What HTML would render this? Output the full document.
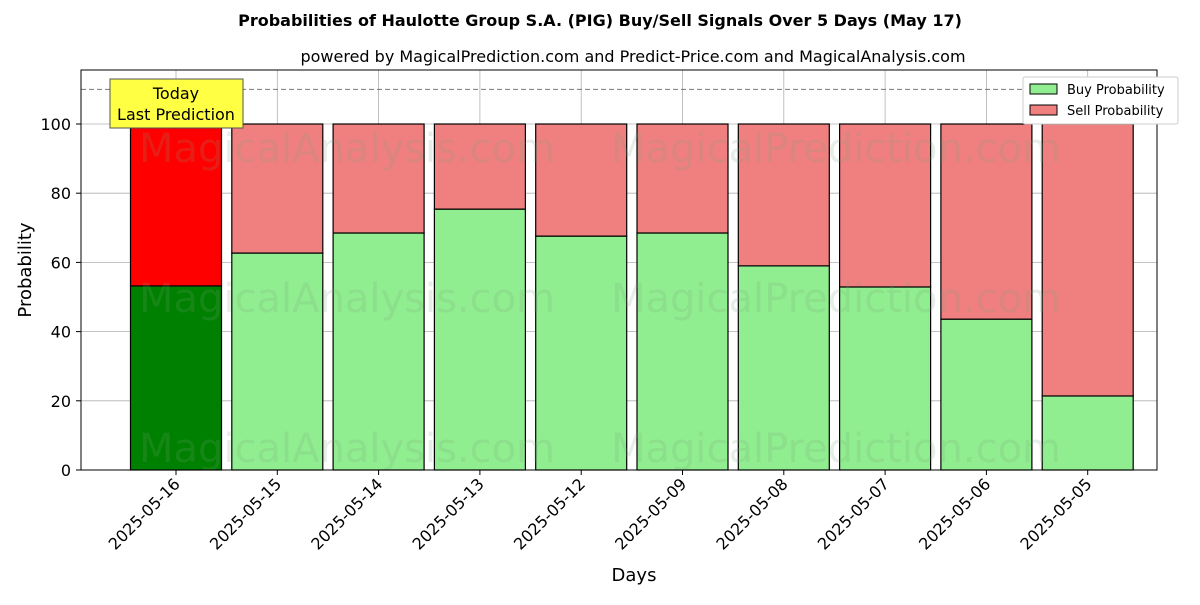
<!DOCTYPE html>
<html><head><meta charset="utf-8"><style>
body{margin:0;background:#fff;font-family:"Liberation Sans","DejaVu Sans",sans-serif}
</style></head><body>
<svg width="1200" height="600" xmlns="http://www.w3.org/2000/svg" font-family="DejaVu Sans, Liberation Sans, sans-serif">
<text x="600" y="26" text-anchor="middle" font-size="16" font-weight="bold">Probabilities of Haulotte Group S.A. (PIG) Buy/Sell Signals Over 5 Days (May 17)</text>
<text x="633" y="62" text-anchor="middle" font-size="16">powered by MagicalPrediction.com and Predict-Price.com and MagicalAnalysis.com</text>
<g id="grid"></g>
<g id="bars"></g>
<g id="wm" font-size="40" fill="rgba(120,160,120,0.18)">
<text x="347" y="162" text-anchor="middle">MagicalAnalysis.com</text>
<text x="836" y="162" text-anchor="middle">MagicalPrediction.com</text>
<text x="347" y="312" text-anchor="middle">MagicalAnalysis.com</text>
<text x="836" y="312" text-anchor="middle">MagicalPrediction.com</text>
<text x="347" y="462" text-anchor="middle">MagicalAnalysis.com</text>
<text x="836" y="462" text-anchor="middle">MagicalPrediction.com</text>
</g>
<line x1="81" x2="1157" y1="89.4" y2="89.4" stroke="#777" stroke-dasharray="5,3"/>
<rect x="110" y="79" width="133" height="49" fill="#ffff44" stroke="#555"/>
<text x="176" y="99" text-anchor="middle" font-size="16">Today</text>
<text x="176" y="120" text-anchor="middle" font-size="16">Last Prediction</text>
<rect x="81" y="70" width="1076" height="400" fill="none" stroke="#000"/>
<g id="axes" font-size="16"></g>
<text x="634" y="581" text-anchor="middle" font-size="18">Days</text>
<text x="31" y="270" text-anchor="middle" font-size="18" transform="rotate(-90 31 270)">Probability</text>
<g>
<rect x="1023" y="77" width="155" height="47" fill="#fff" stroke="#ccc" rx="2"/>
<rect x="1030" y="84" width="27" height="10" fill="#90ee90" stroke="#000"/>
<text x="1067" y="94" font-size="13">Buy Probability</text>
<rect x="1030" y="105" width="27" height="10" fill="#f08080" stroke="#000"/>
<text x="1067" y="115" font-size="13">Sell Probability</text>
</g>
</svg>
<script>
const categories=["2025-05-16","2025-05-15","2025-05-14","2025-05-13","2025-05-12","2025-05-09","2025-05-08","2025-05-07","2025-05-06","2025-05-05"];
const buyValues=[53.2,62.7,68.5,75.4,67.6,68.5,59.0,52.9,43.6,21.4];
const yTicks=[0,20,40,60,80,100];
const NS="http://www.w3.org/2000/svg";
const xs=i=>176+i*101.3, ys=v=>470-v*3.46, bw=91;
function mk(t,a,p){const e=document.createElementNS(NS,t);for(const k in a)e.setAttribute(k,a[k]);p.appendChild(e);return e;}
const grid=document.getElementById('grid'),bars=document.getElementById('bars'),axes=document.getElementById('axes');
yTicks.forEach(v=>{
 const g=mk('line',{x1:81,x2:1157,y1:ys(v),y2:ys(v),stroke:'#b0b0b0','stroke-width':0.8},grid);
 
 
 const t=mk('text',{x:71,y:ys(v)+6,'text-anchor':'end'},axes);t.textContent=v;
 
 
 mk('line',{x1:76,x2:81,y1:ys(v),y2:ys(v),stroke:'#000'},axes);
});
categories.forEach((c,i)=>{
 const x=xs(i);
 const g=mk('line',{x1:x,x2:x,y1:70,y2:470,stroke:'#b0b0b0','stroke-width':0.8},grid);
 
 
 const b=buyValues[i];
 const r1=mk('rect',{x:x-bw/2,y:ys(b),width:bw,height:ys(0)-ys(b),fill:i==0?'#008000':'#90ee90',stroke:'#000','stroke-width':1.2},bars);
 
 
 const r2=mk('rect',{x:x-bw/2,y:ys(100),width:bw,height:ys(b)-ys(100),fill:i==0?'#ff0000':'#f08080',stroke:'#000','stroke-width':1.2},bars);
 
 
 mk('line',{x1:x,x2:x,y1:470,y2:475,stroke:'#000'},axes);
 const t=mk('text',{x:x+5,y:485,'text-anchor':'end',transform:`rotate(-45 ${x+5} 485)`},axes);t.textContent=c;
 
 
});
</script>
</body></html>
